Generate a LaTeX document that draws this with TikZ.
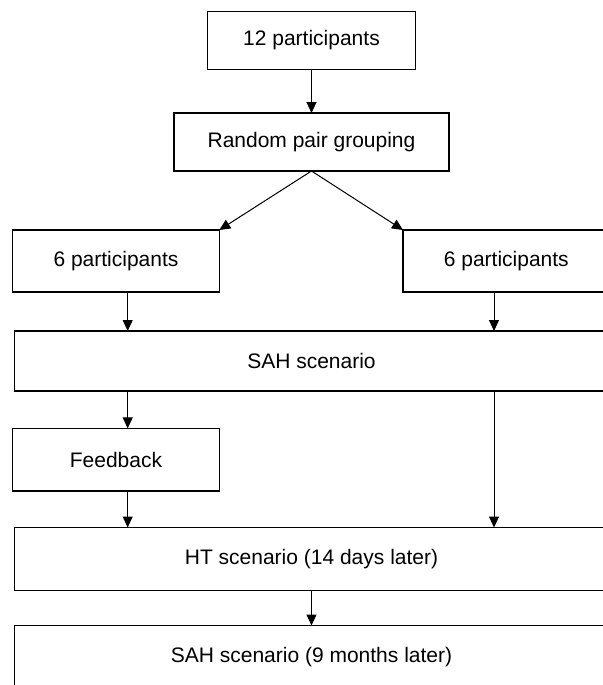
\documentclass[tikz,border=0pt]{standalone}
\usepackage{fontspec}
\setmainfont{Liberation Sans}
\usetikzlibrary{arrows.meta}
\tikzstyle{phase}=[rectangle, draw, line width=0.6pt, inner sep=0pt, outer sep=0pt, minimum height=29pt, font=\fontsize{10.5}{12}\selectfont]
\tikzstyle{flow}=[-{Triangle[length=5.5pt,width=5pt]}, line width=0.5pt]
\newcommand{\phase}{\node[phase]}

\begin{document}
\begin{tikzpicture}[x=0.5pt, y=-0.5pt]
\useasboundingbox (0,0) rectangle (603,685);
\phase[minimum width=104.2pt] (all) at (311.5,40.5) {12 participants};
\phase[minimum width=137.5pt] (pair) at (311.5,142) {Random pair grouping};
\phase[minimum width=103.3pt, minimum height=31pt] (left) at (116,261) {6 participants};
\phase[minimum width=103.3pt, minimum height=31pt] (right) at (506.3,261) {6 participants};
\phase[minimum width=296.8pt, minimum height=30pt] (sah) at (311.5,361) {SAH scenario};
\phase[minimum width=103.3pt, minimum height=31.3pt] (fb) at (116,459.7) {Feedback};
\phase[minimum width=296.8pt, minimum height=31.5pt] (ht) at (311.5,559) {HT scenario (14 days later)};
\phase[minimum width=296.8pt, minimum height=31.5pt] (late) at (311.5,657) {SAH scenario (9 months later)};
\coordinate (lx) at (127.7,0);
\coordinate (rx) at (494,0);
\draw[flow] (all) -- (pair);
\draw[flow] (pair.south) -- (left.north east);
\draw[flow] (pair.south) -- (right.north west);
\draw[flow] (left.south -| lx) -- (sah.north -| lx);
\draw[flow] (right.south -| rx) -- (sah.north -| rx);
\draw[flow] (sah.south -| lx) -- (fb.north -| lx);
\draw[flow] (fb.south -| lx) -- (ht.north -| lx);
\draw[flow] (sah.south -| rx) -- (ht.north -| rx);
\draw[flow] (ht) -- (late);
\end{tikzpicture}
\end{document}
